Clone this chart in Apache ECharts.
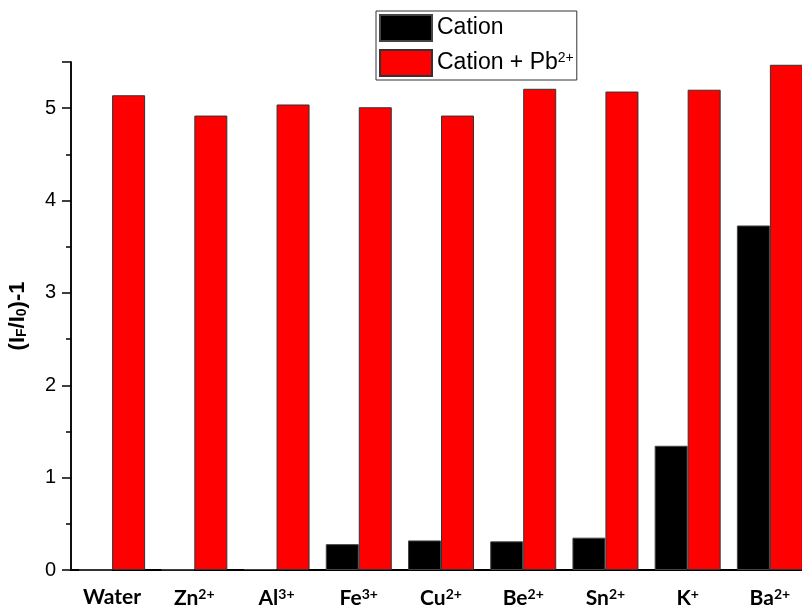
<!DOCTYPE html>
<html>
<head>
<meta charset="utf-8">
<script src="https://cdn.jsdelivr.net/npm/echarts@6/dist/echarts.min.js"></script>
<style>
  html, body { margin: 0; padding: 0; background: #fff; }
  #chart { width: 802px; height: 605px; }
</style>
</head>
<body>
<div id="chart"></div>
<script>
// categories and values
var ions = ['Water', 'Zn2+', 'Al3+', 'Fe3+', 'Cu2+', 'Be2+', 'Sn2+', 'K+', 'Ba2+'];
var cation = [0, 0.005, 0.01, 0.28, 0.32, 0.31, 0.35, 1.345, 3.73];
var cationPb = [5.14, 4.92, 5.04, 5.01, 4.92, 5.21, 5.18, 5.20, 5.47];
var seriesNames = ['Cation', 'Cation + Pb2+'];

// split "Zn2+" into "Zn" + superscript "2+"
function supLabel(s, cls) {
    var m = s.match(/^(.*?)(\d*[+-])$/);
    if (!m) return '{' + cls + '|' + s + '}';
    return '{' + cls + '|' + m[1] + '}{' + cls + 'Sup|' + m[2] + '}';
}

var myChart = echarts.init(document.getElementById('chart'));
myChart.setOption({
    animation: false,
    grid: { left: 71, top: 62, width: 740, bottom: 35, containLabel: false, outerBoundsMode: 'none' },
    legend: {
        orient: 'vertical',
        left: 376,
        top: 11,
        padding: [3, 3, 3, 3],
        itemGap: 7,
        itemWidth: 52,
        itemHeight: 26,
        borderColor: '#333',
        borderWidth: 1,
        icon: 'rect',
        data: seriesNames,
        formatter: function (name) {
            return supLabel(name, 'lg');
        },
        textStyle: {
            rich: {
                lg: { fontFamily: 'Liberation Sans', fontSize: 23, color: '#000' },
                lgSup: { fontFamily: 'Liberation Sans', fontSize: 14, color: '#000', verticalAlign: 'top', padding: [0, 0, 10, 0] }
            }
        }
    },
    xAxis: {
        type: 'category',
        data: ions,
        axisLine: { lineStyle: { color: '#000', width: 2 } },
        axisTick: { show: false },
        axisLabel: {
            interval: 0,
            margin: 17,
            formatter: function (v) { return supLabel(v, 'x'); },
            rich: {
                x: { fontFamily: 'Lato', fontWeight: 'bold', fontSize: 21, color: '#000' },
                xSup: { fontFamily: 'Lato', fontWeight: 'bold', fontSize: 14, color: '#000', verticalAlign: 'top', padding: [0, 0, 8, 0] }
            }
        }
    },
    yAxis: [
        {
            type: 'value',
            min: 0,
            max: 5.5,
            interval: 1,
            name: '{b|(I}{sub|F}{b|/I}{sub|0}{b|)-1}',
            nameLocation: 'middle',
            nameRotate: 90,
            nameGap: 42,
            nameTextStyle: {
                rich: {
                    b: { fontFamily: 'Liberation Sans', fontWeight: 'bold', fontSize: 22, color: '#000' },
                    sub: { fontFamily: 'Liberation Sans', fontWeight: 'bold', fontSize: 14, color: '#000', verticalAlign: 'bottom', padding: [9, 0, 0, 0] }
                }
            },
            axisLine: { show: true, lineStyle: { color: '#000', width: 1.5 } },
            axisTick: { show: true, length: 9, lineStyle: { color: '#000', width: 1.5 } },
            axisLabel: {
                margin: 15, fontFamily: 'Liberation Sans', fontSize: 20, color: '#000',
                formatter: function (v) { return v % 1 === 0 ? String(v) : ''; }
            },
            splitLine: { show: false }
        },
        {
            type: 'value',
            position: 'left',
            min: 0,
            max: 5.5,
            interval: 0.5,
            axisLine: { show: true, lineStyle: { color: '#000', width: 1.5 } },
            axisTick: { show: true, length: 5, lineStyle: { color: '#000', width: 1.5 } },
            axisLabel: { show: false },
            splitLine: { show: false }
        }
    ],
    series: [
        {
            name: seriesNames[0],
            type: 'bar',
            barWidth: 33,
            barGap: '0%',
            data: cation,
            itemStyle: { color: '#000', borderColor: '#444', borderWidth: 1 }
        },
        {
            name: seriesNames[1],
            type: 'bar',
            barWidth: 33,
            barGap: '0%',
            data: cationPb,
            itemStyle: { color: '#ff0000', borderColor: '#333', borderWidth: 1 }
        }
    ]
});
</script>
</body>
</html>
